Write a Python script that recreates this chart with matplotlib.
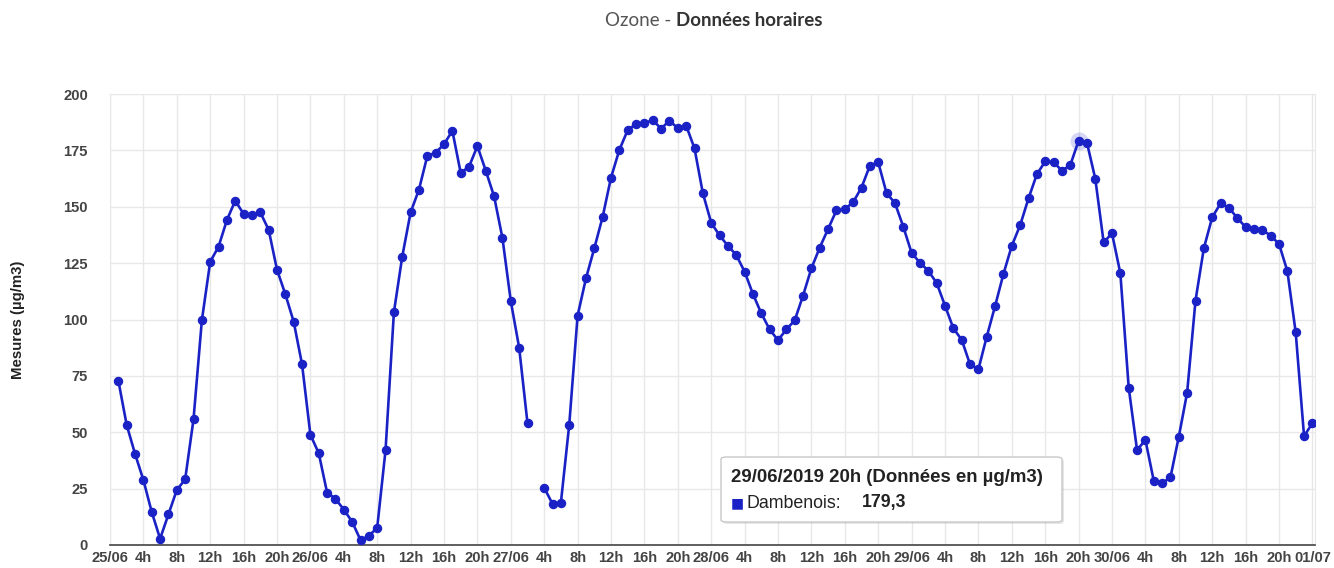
import numpy as np
import matplotlib.pyplot as plt
from matplotlib.patches import FancyBboxPatch

# hourly ozone values, 25/06 1h -> 01/07 0h (hour index from 25/06 0h)
hours = list(range(1, 145))
ozone = [
    72.9, 53.2, 40.4, 28.8, 14.6, 2.8, 13.6, 24.4, 29.1, 55.7, 99.6, 125.6,
    132.3, 144.1, 152.7, 146.8, 146.3, 147.5, 139.8, 122.1, 111.2, 99.0, 80.1, 48.9,
    40.7, 23.2, 20.5, 15.7, 10.3, 2.2, 4.0, 7.7, 42.1, 103.2, 127.9, 147.5,
    157.6, 172.5, 174.0, 177.7, 183.7, 165.0, 167.8, 176.9, 166.0, 154.6, 136.1, 108.1,
    87.5, 54.0, np.nan, 25.4, 18.2, 18.8, 53.4, 101.7, 118.2, 131.6, 145.5, 162.9,
    175.2, 184.0, 186.7, 187.0, 188.5, 184.6, 188.2, 184.8, 186.0, 175.9, 156.0, 142.9,
    137.3, 132.7, 128.6, 121.2, 111.3, 102.7, 95.6, 90.8, 95.6, 99.6, 110.6, 122.7,
    131.9, 140.1, 148.4, 148.9, 152.0, 158.5, 168.2, 169.8, 156.0, 151.7, 141.2, 129.5,
    125.2, 121.6, 116.2, 106.1, 96.1, 91.0, 80.1, 77.9, 92.4, 106.0, 120.2, 132.7,
    141.8, 153.7, 164.4, 170.1, 169.8, 166.0, 168.4, 179.3, 178.4, 162.4, 134.2, 138.2,
    120.5, 69.8, 42.1, 46.6, 28.5, 27.4, 30.0, 48.0, 67.6, 108.4, 131.6, 145.3,
    151.5, 149.6, 145.0, 141.0, 140.3, 139.7, 137.2, 133.5, 121.5, 94.3, 48.3, 54.0,
]
days = ['25/06', '26/06', '27/06', '28/06', '29/06', '30/06', '01/07']
y_ticks = [0, 25, 50, 75, 100, 125, 150, 175, 200]
hover_hour = 116
hover_date = '29/06/2019 20h'
station = 'Dambenois'

W, H = 1334, 568
BLUE = '#1a22c6'


def px(x, y):
    # pixel position -> figure fraction
    return x / W, 1 - y / H


plt.rcParams['font.family'] = ['Liberation Sans', 'DejaVu Sans']

fig = plt.figure(figsize=(W / 100, H / 100), dpi=100)
ax = fig.add_axes([110 / W, (H - 545) / H, (1315 - 110) / W, (545 - 94) / H])

ax.plot(hours, ozone, color=BLUE, lw=1.9, marker='o', ms=5.8, zorder=3)

# highlighted (hovered) point
hi = hours.index(hover_hour)
ax.plot(hours[hi], ozone[hi], 'o', ms=13, color=BLUE, alpha=0.18, mec='none', zorder=2)

ax.set_xlim(0, 1205 / 8.35)
ax.set_ylim(0, 200)

xt = list(range(0, 145, 4))
xl = [days[h // 24] if h % 24 == 0 else f'{h % 24}h' for h in xt]
ax.set_xticks(xt)
ax.set_xticklabels(xl, fontsize=10.6, fontweight='bold', color='#444444')
ax.set_yticks(y_ticks)
ax.set_yticklabels([str(v) for v in y_ticks], fontsize=10.6, fontweight='bold', color='#444444')
ax.tick_params(length=0, pad=4)
ax.tick_params(axis='y', pad=16)

ax.grid(True, color='#e8e8e8', lw=1)
ax.set_axisbelow(True)
for s in ['left', 'top', 'right']:
    ax.spines[s].set_color('#e8e8e8')
ax.spines['bottom'].set_color('#444444')
ax.spines['bottom'].set_linewidth(1.2)

fig.text(*px(18, 320), 'Mesures (µg/m3)', rotation=90, ha='center', va='center',
         fontsize=10.8, fontweight='bold', color='#222222')

# title
fig.text(*px(676, 21), 'Ozone - ', ha='right', va='center', fontsize=13.5,
         color='#555555', family=['Lato', 'DejaVu Sans'])
fig.text(*px(676, 21), 'Données horaires', ha='left', va='center', fontsize=13.5,
         color='#333333', family=['Lato', 'DejaVu Sans'], fontweight='bold')

# tooltip box
bx0, by0, bx1, by1 = 721, 457, 1062, 522
shadow = FancyBboxPatch(px(bx0 + 2, by1 + 2), (bx1 - bx0) / W, (by1 - by0) / H,
                        boxstyle='round,pad=0,rounding_size=0.004',
                        transform=fig.transFigure, fc='#00000018', ec='none', zorder=5)
box = FancyBboxPatch(px(bx0, by1), (bx1 - bx0) / W, (by1 - by0) / H,
                     boxstyle='round,pad=0,rounding_size=0.004',
                     transform=fig.transFigure, fc='white', ec='#c8c8c8', lw=1, zorder=6)
fig.patches.extend([shadow, box])
fig.text(*px(731, 478), f'{hover_date} (Données en µg/m3)', ha='left', va='center',
         fontsize=13.4, fontweight='bold', color='#222222', zorder=7)
fig.text(*px(731, 503), '■', ha='left', va='center', fontsize=10, color=BLUE, zorder=7,
         family=['DejaVu Sans'])
fig.text(*px(746, 503), f'{station}:', ha='left', va='center', fontsize=12.8,
         color='#222222', zorder=7)
fig.text(*px(862, 503), f'{ozone[hi]:.1f}'.replace('.', ','), ha='left', va='center',
         fontsize=12.8, fontweight='bold', color='#222222', zorder=7)

fig.savefig('out.png', dpi=100)
